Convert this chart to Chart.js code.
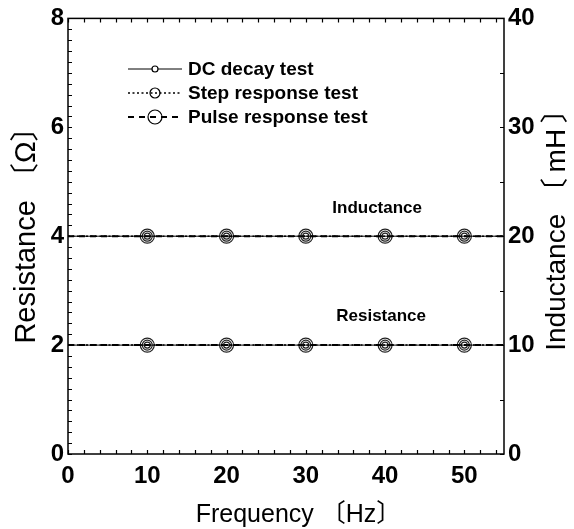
<!DOCTYPE html>
<html><head><meta charset="utf-8">
<script src="https://cdn.jsdelivr.net/npm/chart.js@4/dist/chart.umd.min.js"></script>
<style>html,body{margin:0;padding:0;background:#fff}</style>
</head><body>
<canvas id="c" width="574" height="529"></canvas>
<script>
// ---- data ----
const frequencies = [10, 20, 30, 40, 50];            // Hz
const testNames = ['DC decay test', 'Step response test', 'Pulse response test'];
const resistanceDC    = [2, 2, 2, 2, 2];              // Ω
const resistanceStep  = [2, 2, 2, 2, 2];
const resistancePulse = [2, 2, 2, 2, 2];
const inductanceDC    = [20, 20, 20, 20, 20];         // mH
const inductanceStep  = [20, 20, 20, 20, 20];
const inductancePulse = [20, 20, 20, 20, 20];
const freqRange = [0, 55];
const xTickLabels = [0, 10, 20, 30, 40, 50];
const resTickLabels = [0, 2, 4, 6, 8];
const indTickLabels = [0, 10, 20, 30, 40];
const annotations = [
  {text: 'Inductance', x: 39, y: 4.52},
  {text: 'Resistance', x: 39.5, y: 2.52}
];

// ---- styles ----
const FONT = '"Liberation Sans", Arial, "Noto Sans CJK JP", sans-serif';
const styles = [
  {dash: [], width: 1, r: 3},
  {dash: [2, 2.5], width: 1.5, r: 5},
  {dash: [6, 5], width: 2, r: 7}
];
const mean = a => a.reduce((s, v) => s + v, 0) / a.length;
const resSeries = [resistanceDC, resistanceStep, resistancePulse];
const indSeries = [inductanceDC, inductanceStep, inductancePulse];

const datasets = [];
[resSeries, indSeries].forEach((group, gi) => {
  group.forEach((vals, i) => {
    const st = styles[i];
    const axis = gi === 0 ? 'y' : 'y2';
    const m = mean(vals);
    datasets.push({
      label: testNames[i] + ' line', yAxisID: axis, showLine: true,
      data: freqRange.map(f => ({x: f, y: m})),
      borderColor: '#000', borderWidth: st.width, borderDash: st.dash,
      pointRadius: 0, fill: false
    });
    datasets.push({
      label: testNames[i], yAxisID: axis, showLine: false,
      data: frequencies.map((f, k) => ({x: f, y: vals[k]})),
      pointStyle: 'circle', pointRadius: st.r, pointBorderWidth: 1.2,
      pointBorderColor: '#222', pointBackgroundColor: 'rgba(0,0,0,0)'
    });
  });
});

function vText(ctx, text, x, y, font) {
  ctx.save();
  ctx.font = font;
  ctx.translate(x, y);
  ctx.rotate(-Math.PI / 2);
  ctx.textAlign = 'center'; ctx.textBaseline = 'middle';
  ctx.fillText(text, 0, 0);
  ctx.restore();
}

const decor = {
  id: 'decor',
  afterDraw(chart) {
    const {ctx, chartArea: ca, scales} = chart;
    const xs = scales.x, ys = scales.y, y2 = scales.y2;
    ctx.save();
    ctx.strokeStyle = '#000';
    ctx.lineWidth = 1.5;
    ctx.strokeRect(ca.left, ca.top, ca.right - ca.left, ca.bottom - ca.top);
    ctx.lineWidth = 1.2;
    ctx.beginPath();
    for (let v = 0; v <= 55; v += 2) {
      const px = Math.round(xs.getPixelForValue(v)) + 0.5;
      ctx.moveTo(px, ca.bottom); ctx.lineTo(px, ca.bottom - 4);
      ctx.moveTo(px, ca.top); ctx.lineTo(px, ca.top + 4);
    }
    for (let k = 0; k <= 40; k++) {
      const py = Math.round(ys.getPixelForValue(k * 0.2)) + 0.5;
      ctx.moveTo(ca.left, py); ctx.lineTo(ca.left + 4, py);
    }
    for (let v = 0; v <= 40; v += 5) {
      const py = Math.round(y2.getPixelForValue(v)) + 0.5;
      ctx.moveTo(ca.right, py); ctx.lineTo(ca.right - 4, py);
    }
    ctx.stroke();

    // annotations
    ctx.fillStyle = '#000';
    ctx.font = 'bold 17px ' + FONT;
    ctx.textAlign = 'center'; ctx.textBaseline = 'middle';
    annotations.forEach(a => ctx.fillText(a.text, xs.getPixelForValue(a.x), ys.getPixelForValue(a.y)));

    // legend
    const lx0 = 128, lx1 = 182, mx = 155, ty0 = 69, dy = 24;
    ctx.font = 'bold 19px ' + FONT;
    ctx.textAlign = 'left';
    testNames.forEach((name, i) => {
      const st = styles[i];
      const y = ty0 + i * dy;
      ctx.lineWidth = st.width; ctx.setLineDash(st.dash);
      ctx.beginPath(); ctx.moveTo(lx0, y); ctx.lineTo(lx1, y); ctx.stroke();
      ctx.setLineDash([]); ctx.lineWidth = 1.2;
      ctx.fillStyle = '#fff';
      if (i === 0) { ctx.beginPath(); ctx.arc(mx, y, st.r, 0, Math.PI * 2); ctx.fill(); }
      ctx.beginPath(); ctx.arc(mx, y, st.r, 0, Math.PI * 2); ctx.stroke();
      ctx.fillStyle = '#000';
      ctx.fillText(name, 188, y + 1);
    });

    // axis titles (both read bottom-to-top)
    vText(ctx, 'Resistance 〔Ω〕', 27, 228, '29px ' + FONT);
    vText(ctx, 'Inductance 〔\u2009mH\u2009〕', 557, 223, '28px ' + FONT);
    ctx.restore();
  }
};

const tickFont = {family: FONT, size: 24, weight: 'bold'};
const titleFontX = {family: FONT, size: 25, weight: 'normal', lineHeight: 1};

new Chart(document.getElementById('c'), {
  type: 'scatter',
  data: {datasets},
  options: {
    responsive: false, animation: false, devicePixelRatio: 1,
    layout: {padding: {top: 18, left: 0, right: 0, bottom: 0}},
    plugins: {legend: {display: false}, tooltip: {enabled: false}},
    scales: {
      x: {
        type: 'linear', position: 'bottom', min: freqRange[0], max: freqRange[1],
        afterBuildTicks: s => { s.ticks = xTickLabels.map(v => ({value: v})); },
        afterFit: s => { s.height = 75; },
        grid: {display: false, drawTicks: false}, border: {display: false},
        ticks: {font: tickFont, color: '#000', padding: 8, maxRotation: 0, autoSkip: false},
        title: {display: true, text: '\u2003Frequency 〔Hz〕', font: titleFontX, color: '#000', padding: {bottom: 1}}
      },
      y: {
        type: 'linear', position: 'left', min: 0, max: 8,
        afterBuildTicks: s => { s.ticks = resTickLabels.map(v => ({value: v})); },
        afterFit: s => { s.width = 68; },
        grid: {display: false, drawTicks: false}, border: {display: false},
        ticks: {font: tickFont, color: '#000', padding: 4, autoSkip: false},
        title: {display: false}
      },
      y2: {
        type: 'linear', position: 'right', min: 0, max: 40,
        afterBuildTicks: s => { s.ticks = indTickLabels.map(v => ({value: v})); },
        afterFit: s => { s.width = 70; },
        grid: {display: false, drawTicks: false}, border: {display: false},
        ticks: {font: tickFont, color: '#000', padding: 4, autoSkip: false},
        title: {display: false}
      }
    }
  },
  plugins: [decor]
});
</script>
</body></html>
